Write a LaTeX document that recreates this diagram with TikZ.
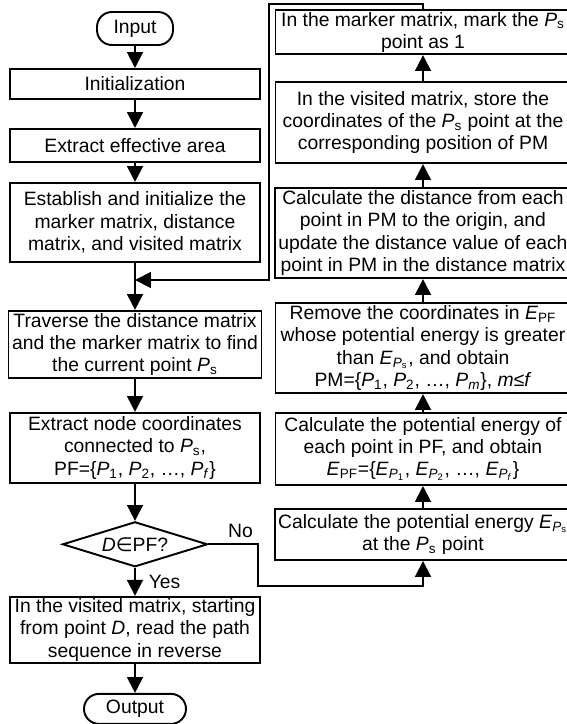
\documentclass[tikz,border=0pt]{standalone}
\usepackage{fontspec}
\setmainfont{Liberation Sans}
\newfontfamily\symfont{DejaVu Sans}
\usepackage{tikz}
\usetikzlibrary{shapes.geometric, arrows.meta, positioning}

\newcommand{\Ps}{\textit{P}\textsubscript{s}}
\newcommand{\Pk}[1]{\textit{P}\textsubscript{#1}}
\newcommand{\EPF}{\textit{E}\textsubscript{PF}}
\newcommand{\EPi}[1]{\textit{E}\textsubscript{\textit{P}\textsubscript{#1}}}

\begin{document}
\begin{tikzpicture}[
  x=0.02cm, y=-0.02cm,
  font=\fontsize{11}{12.7}\selectfont,
  line width=1.1pt,
  term/.style={rectangle, rounded corners=8.5pt, draw, inner sep=1pt},
  box/.style={rectangle, draw, align=center, minimum width=5cm,
              inner xsep=2pt, inner ysep=1pt},
  rbox/.style={box, minimum width=5.9cm},
  dec/.style={diamond, draw, shape aspect=2.4, minimum width=2.9cm,
              minimum height=0.9cm, inner sep=0pt},
  arr/.style={-{Triangle[length=9pt, width=9pt]}},
  labl/.style={font=\fontsize{11}{12.7}\selectfont},
  node distance=0.5cm and 0.4cm
]
  \useasboundingbox (0,0) rectangle (566,724);

  % main column
  \node[term, minimum width=1.52cm, minimum height=0.66cm] (in) at (135,28.5) {Input};
  \node[box, minimum height=0.6cm,  below=0.441cm of in]   (init) {Initialization};
  \node[box, minimum height=0.66cm, below=0.561cm of init] (area) {Extract effective area};
  \node[box, minimum height=1.58cm, below=0.381cm of area] (est)
    {Establish and initialize the\\ marker matrix, distance\\ matrix, and visited matrix};
  \node[box, minimum height=1.34cm, below=0.941cm of est]  (trav)
    {Traverse the distance matrix\\ and the marker matrix to find\\ the current point \Ps};
  \node[box, minimum height=1.4cm,  below=0.661cm of trav] (ext)
    {Extract node coordinates\\ connected to \Ps,\\ PF=\{\Pk{1}, \Pk{2}, …, \Pk{\textit{f}}\}};
  \node[dec, below=0.741cm of ext] (chk) {\textit{D}{\symfont ∈}PF?};
  \node[box, minimum height=1.3cm,  below=0.561cm of chk]  (rev)
    {In the visited matrix, starting\\ from point \textit{D}, read the path\\ sequence in reverse};
  \node[term, minimum width=2.04cm, minimum height=0.6cm, below=0.581cm of rev] (out) {Output};

  % loop column
  \node[rbox, minimum height=1.02cm] (pes) at (423,534.5)
    {Calculate the potential energy \EPi{s}\\ at the \Ps{} point};
  \node[rbox, minimum height=1.44cm, above=0.441cm of pes] (pe)
    {Calculate the potential energy of\\ each point in PF, and obtain\\
     \EPF=\{\EPi{1}, \EPi{2}, …, \EPi{\textit{f}}\}};
  \node[rbox, minimum height=1.8cm, above=0.361cm of pe] (remv)
    {Remove the coordinates in \EPF\\ whose potential energy is greater\\
     than \EPi{s}, and obtain\\ PM=\{\Pk{1}, \Pk{2}, …, \Pk{\textit{m}}\}, \textit{m}≤\textit{f}};
  \node[rbox, minimum height=1.8cm, above=0.461cm of remv] (dist)
    {Calculate the distance from each\\ point in PM to the origin, and\\
     update the distance value of each\\ point in PM in the distance matrix};
  \node[rbox, minimum height=1.62cm, above=0.461cm of dist] (store)
    {In the visited matrix, store the\\ coordinates of the \Ps{} point at the\\
     corresponding position of PM};
  \node[rbox, minimum height=0.88cm, above=0.521cm of store] (mark)
    {In the marker matrix, mark the \Ps\\ point as 1};

  \coordinate (join) at (135,280);

  \draw[arr] (in) -- (init);
  \draw[arr] (init) -- (area);
  \draw[arr] (area) -- (est);
  \draw[arr] (est) -- (trav);
  \draw[arr] (trav) -- (ext);
  \draw[arr] (ext) -- (chk);
  \draw[arr] (chk) -- node[labl, right, xshift=4pt] {Yes} (rev);
  \draw[arr] (rev) -- (out);
  \draw[arr] (chk.east) -- ++(50,0) node[labl, above, pos=0.64] {No}
    -- ++(0,42) -| (pes.south);
  \draw[arr] (pes) -- (pe);
  \draw[arr] (pe) -- (remv);
  \draw[arr] (remv) -- (dist);
  \draw[arr] (dist) -- (store);
  \draw[arr] (store) -- (mark);
  \draw[arr] (mark.north) -- ++(0,-5) -| (269,280) -- (join);
\end{tikzpicture}
\end{document}
